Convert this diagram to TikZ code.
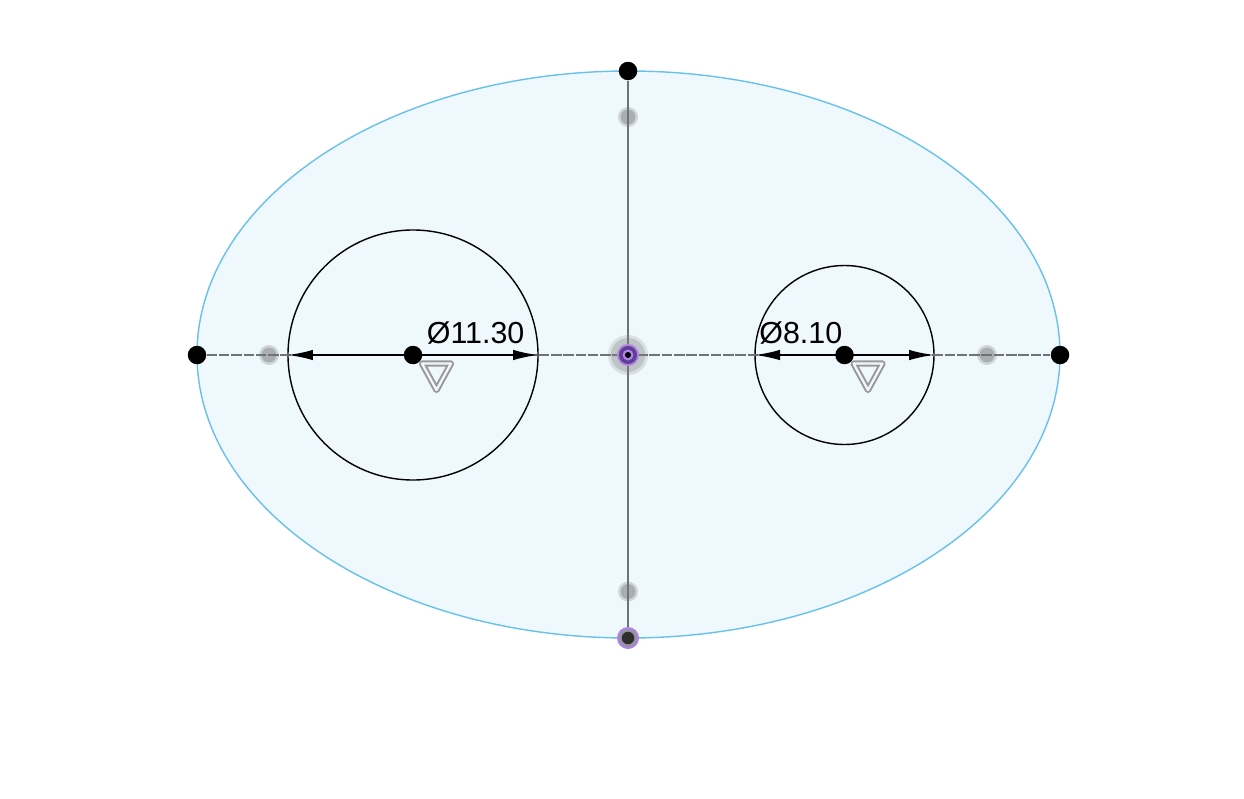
\documentclass[tikz,border=0pt]{standalone}
\usepackage{fontspec}
\setmainfont{Liberation Sans}
\usetikzlibrary{arrows.meta}
\definecolor{sketchblue}{RGB}{104,193,236}
\definecolor{sketchfill}{RGB}{239,248,252}
\definecolor{axisgray}{RGB}{110,115,118}
\definecolor{ringpurple}{RGB}{96,62,150}
\definecolor{ringlight}{RGB}{172,132,226}
\tikzset{
  pt/.style={circle,fill=black,inner sep=0pt,minimum size=18.5*0.02cm},
  ghostpt/.style={circle,fill=black!55,fill opacity=.25,inner sep=0pt,minimum size=20*0.02cm},
  ghostcore/.style={circle,fill=black!55,fill opacity=.4,inner sep=0pt,minimum size=15*0.02cm},
  dimline/.style={black,line width=1.05pt,-{Latex[length=.5cm,width=.21cm]}},
  dimtext/.style={font=\fontsize{17.3pt}{19pt}\selectfont,inner sep=0pt,anchor=base west},
  lockmark/.style={draw=black!40,double=sketchfill,double distance=1.3pt,line width=1.15pt,line join=round}
}
\begin{document}
\begin{tikzpicture}[x=0.02cm,y=-0.02cm]
  \useasboundingbox[fill=white] (0,0) rectangle (1244,798);
  % profile and holes
  \draw[sketchblue,fill=sketchfill,line width=.8pt] (628.5,354.5) ellipse (431.5 and 283.5);
  \draw[black,line width=.8pt] (413,355) circle(125);
  \draw[black,line width=.8pt] (844.5,355) circle(89.5);
  % points
  \coordinate (L1) at (288,355);
  \coordinate (L2) at (538,355);
  \coordinate (R1) at (755,355);
  \coordinate (R2) at (934,355);
  \node[pt] (west) at (197,355) {};
  \node[pt] (east) at (1060,355) {};
  \node[pt] (north) at (628,71) {};
  \coordinate (south) at (628,638);
  \coordinate (origin) at (628,355);
  \node[pt] (holeL) at (413,355) {};
  \node[pt] (holeR) at (844.5,355) {};
  \node[ghostpt] (ghostW) at (269,355) {};
  \node[ghostcore] at (ghostW) {};
  \node[ghostpt] (ghostE) at (987,355) {};
  \node[ghostcore] at (ghostE) {};
  \node[ghostpt] (ghostN) at (628,117) {};
  \node[ghostcore] at (ghostN) {};
  \node[ghostpt] (ghostS) at (628,591.5) {};
  \node[ghostcore] at (ghostS) {};
  % axes
  \draw[axisgray,line width=1.1pt] (north) -- (south);
  \draw[axisgray,line width=1.1pt,dash pattern=on 6pt off 1pt] (west) -- (east);
  % origin
  \path[fill=black!50,fill opacity=.2] (origin) circle(20);
  \path[fill=black!50,fill opacity=.28] (origin) circle(17);
  \path[fill=ringlight] (origin) circle(11);
  \path[fill=ringpurple] (origin) circle(9);
  \path[fill=ringlight] (origin) circle(5.5);
  \node[circle,fill=black,inner sep=0pt,minimum size=6*0.02cm] (originpt) at (origin) {};
  % bottom point
  \path[fill=ringlight] (south) circle(11);
  \path[fill=black!42] (south) circle(8.5);
  \node[circle,fill=black!82,inner sep=0pt,minimum size=12.5*0.02cm] (southpt) at (south) {};
  % dimensions
  \draw[dimline] (holeL.center) -- (L1);
  \draw[dimline] (holeL.center) -- (L2);
  \draw[dimline] (holeR.center) -- (R1);
  \draw[dimline] (holeR.center) -- (R2);
  \node[dimtext] (dimL) at (426.5,343) {Ø11.30};
  \node[dimtext] (dimR) at (759,343) {Ø8.10};
  % constraint marks
  \draw[lockmark] (422,363.5) -- (451,363.5) -- (436.5,390) -- cycle;
  \draw[lockmark] (853.5,363.5) -- (882.5,363.5) -- (868,390) -- cycle;
\end{tikzpicture}
\end{document}
